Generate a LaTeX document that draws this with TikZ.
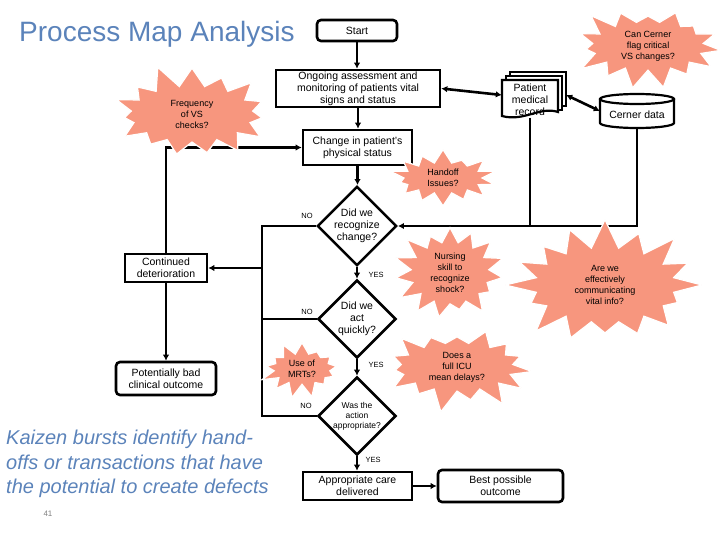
\documentclass[tikz,border=0pt]{standalone}
\usepackage{fontspec}
\setmainfont{Liberation Sans}
\usetikzlibrary{shapes.geometric,shapes.symbols,arrows.meta,calc}
\definecolor{titleblue}{RGB}{91,131,186}
\definecolor{burst}{RGB}{247,150,126}
\begin{document}
\begin{tikzpicture}[x=1pt,y=-1pt,
  every node/.style={inner sep=0pt, align=center, font=\fontsize{10.5}{12}\selectfont},
  box/.style={draw, line width=2.6pt, fill=white},
  rbox/.style={box, rounded corners=4pt},
  dec/.style={diamond, draw, line width=2.6pt, fill=white, minimum width=78pt, minimum height=78pt, aspect=1},
  kb/.style={starburst, fill=burst, draw=white, line width=1.2pt, inner sep=2pt, font=\fontsize{9}{11}\selectfont},
  flow/.style={line width=2.6pt, -{Latex[length=6pt,width=6.5pt]}},
  both/.style={line width=2.6pt, {Latex[length=6pt,width=6.5pt]}-{Latex[length=6pt,width=6.5pt]}},
  link/.style={line width=2.6pt},
  lab/.style={font=\fontsize{7.5}{9}\selectfont}]
\useasboundingbox (0,0) rectangle (720,540);

\node[anchor=west, text=titleblue, font=\fontsize{28}{32}\selectfont] (title) at (19,34) {Process Map Analysis};

% main boxes
\node[rbox, minimum width=80pt, minimum height=21pt] (start) at (357,30.5) {Start};
\node[box, minimum width=164pt, minimum height=37pt] (ongo) at (358,88.5) {Ongoing assessment and\\monitoring of patients vital\\signs and status};
\node[box, minimum width=109pt, minimum height=35pt] (change) at (357.5,147.5) {Change in patient's\\physical status};
\node[dec] (d1) at (357,226) {Did we\\recognize\\change?};
\node[dec] (d2) at (357,319) {Did we\\act\\quickly?};
\node[dec, font=\fontsize{8.5}{10}\selectfont] (d3) at (357,416) {Was the\\action\\appropriate?};
\node[box, minimum width=82pt, minimum height=28pt] (cont) at (166,268) {Continued\\deterioration};
\node[rbox, minimum width=100pt, minimum height=33pt] (bad) at (166,378.5) {Potentially bad\\clinical outcome};
\node[box, minimum width=109pt, minimum height=28pt] (care) at (357.5,486) {Appropriate care\\delivered};
\node[rbox, minimum width=125pt, minimum height=32pt] (best) at (500.5,486) {Best possible\\outcome};

% patient medical record (multi-document)
\draw[line width=2.2pt, fill=white] (510,72) rectangle (566,106);
\draw[line width=2.2pt, fill=white] (506,76) rectangle (562,110);
\draw[line width=2.2pt, fill=white] (502,80) -- (558,80) -- (558,112) .. controls (540,106) and (524,122) .. (502,116) -- cycle;
\node[minimum width=56pt, minimum height=36pt] (pmrtext) at (530,99.5) {Patient\\medical\\record};
\node[minimum width=64pt, minimum height=46pt] (pmrall) at (534,95) {};

% Cerner data cylinder
\node[minimum width=74pt, minimum height=32pt] (cerner) at (637,111) {};
\draw[line width=2.2pt, fill=white] (600,99) -- (600,123) arc[start angle=180, end angle=0, x radius=37, y radius=5] -- (674,99);
\draw[line width=2.2pt, fill=white] (637,99) ellipse [x radius=37, y radius=5];
\node (cernertext) at (637,115) {Cerner data};

% connectors
\draw[flow] (start.south) -- (start.south |- ongo.north);
\draw[flow] (ongo.south) -- (ongo.south |- change.north);
\draw[flow] (change.south) -- (change.south |- d1.north);
\draw[flow] (d1.south) -- (d2.north);
\draw[flow] (d2.south) -- (d3.north);
\draw[flow] (d3.south) -- (d3.south |- care.north);
\draw[flow] (care.east) -- (best.west);
\draw[both] (ongo.east) -- (pmrall.west);
\draw[both] (pmrall.east) -- (cerner.west);
\draw[link] (pmrtext.south) -- (pmrtext.south |- d1.east);
\draw[flow] (cerner.south) |- (d1.east);

\coordinate (b1) at (262,226);
\coordinate (b2) at (262,319);
\coordinate (b3) at (262,416);
\coordinate (bc) at (262,268);
\draw[link] (d1.west) -- (b1) -- (b3) -- (d3.west);
\draw[link] (d2.west) -- (b2);
\draw[flow] (bc) -- (cont.east);
\draw[flow] (cont.north) |- (change.west);
\draw[flow] (cont.south) -- (bad.north);

% labels
\node[lab] (no1) at (307,216) {NO};
\node[lab] (yes1) at (376,275) {YES};
\node[lab] (no2) at (307,312) {NO};
\node[lab] (yes2) at (376,365) {YES};
\node[lab] (no3) at (306,406) {NO};
\node[lab] (yes3) at (373,460) {YES};

% kaizen bursts
\node[kb, minimum width=170pt, minimum height=104pt, starburst points=15, starburst point height=24pt, random starburst=11] (freq) at (192,114) {Frequency\\of VS\\checks?};
\node[kb, minimum width=155pt, minimum height=82pt, starburst points=15, starburst point height=22pt, random starburst=23] (can) at (648,46) {Can Cerner\\flag critical\\VS changes?};
\node[kb, minimum width=110pt, minimum height=56pt, starburst points=14, starburst point height=16pt, random starburst=37] (handoff) at (443,178) {Handoff\\Issues?};
\node[kb, minimum width=122pt, minimum height=90pt, starburst points=15, starburst point height=22pt, random starburst=41] (nursing) at (450,273) {Nursing\\skill to\\recognize\\shock?};
\node[kb, minimum width=200pt, minimum height=135pt, starburst points=16, starburst point height=30pt, random starburst=53] (arewe) at (605,285) {Are we\\effectively\\communicating\\vital info?};
\node[kb, minimum width=86pt, minimum height=54pt, starburst points=13, starburst point height=15pt, random starburst=67] (mrts) at (302,369) {Use of\\MRTs?};
\node[kb, minimum width=160pt, minimum height=82pt, starburst points=15, starburst point height=24pt, random starburst=79] (icu) at (457,367) {Does a\\full ICU\\mean delays?};

\node[anchor=north west, align=left, text=titleblue, font=\itshape\fontsize{20}{24.5}\selectfont] (kaizen) at (6,430) {Kaizen bursts identify hand-\\offs or transactions that have\\the potential to create defects};
\node[text=gray, font=\fontsize{8}{9}\selectfont] (page) at (48,514) {41};
\end{tikzpicture}
\end{document}
